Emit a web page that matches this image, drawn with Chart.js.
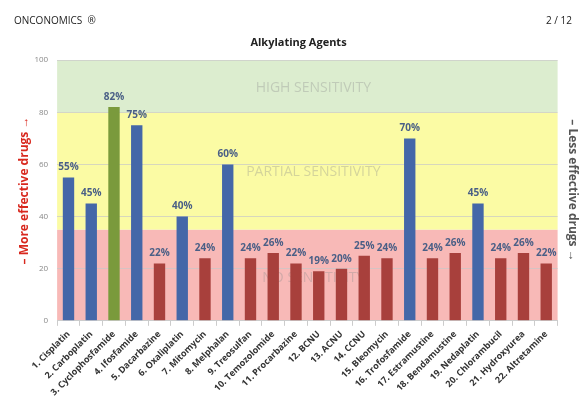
<!DOCTYPE html>
<html>
<head>
<meta charset="utf-8">
<script src="https://cdn.jsdelivr.net/npm/chart.js@4"></script>
<style>
  html, body { margin: 0; padding: 0; background: #fff; }
  #wrap { width: 580px; height: 412px; position: relative; }
</style>
</head>
<body>
<div id="wrap"><canvas id="alkylating"></canvas></div>
<script>
const drugs = ['1. Cisplatin', '2. Carboplatin', '3. Cyclophosfamide', '4. Ifosfamide', '5. Dacarbazine',
    '6. Oxaliplatin', '7. Mitomycin', '8. Melphalan', '9. Treosulfan', '10. Temozolomide', '11. Procarbazine',
    '12. BCNU', '13. ACNU', '14. CCNU', '15. Bleomycin', '16. Trofosfamide', '17. Estramustine',
    '18. Bendamustine', '19. Nedaplatin', '20. Chlorambucil', '21. Hydroxyurea', '22. Altretamine'];
const sensitivity = [55, 45, 82, 75, 22, 40, 24, 60, 24, 26, 22, 19, 20, 25, 24, 70, 24, 26, 45, 24, 26, 22];
// b = blue, g = green, r = red
const barGroup = ['b', 'b', 'g', 'b', 'r', 'b', 'r', 'b', 'r', 'r', 'r', 'r', 'r', 'r', 'r', 'b', 'r', 'r', 'b', 'r', 'r', 'r'];
const yTicks = [0, 20, 40, 60, 80, 100];
const bandLimits = [0, 35, 80, 100];
const bandNames = ['NO SENSITIVITY', 'PARTIAL SENSITIVITY', 'HIGH SENSITIVITY'];

const groupColors = { b: '#4467a8', g: '#7a9a3c', r: '#a8403c' };
const bandColors = ['#f8b9b7', '#fbfba4', '#dcedcf'];

const bandsPlugin = {
    id: 'bands',
    beforeDraw(chart) {
        const { ctx, chartArea, scales } = chart;
        const y = scales.y;
        ctx.save();
        for (let i = 0; i < bandNames.length; i++) {
            const top = y.getPixelForValue(bandLimits[i + 1]);
            const bottom = y.getPixelForValue(bandLimits[i]);
            ctx.fillStyle = bandColors[i];
            ctx.fillRect(chartArea.left, top, chartArea.right - chartArea.left, bottom - top);
        }
        ctx.restore();
    },
    beforeDatasetsDraw(chart) {
        const { ctx, chartArea, scales } = chart;
        const y = scales.y;
        ctx.save();
        ctx.font = '14px "Open Sans", sans-serif';
        ctx.fillStyle = 'rgba(140,140,140,0.35)';
        ctx.textAlign = 'center';
        ctx.textBaseline = 'middle';
        const cx = (chartArea.left + chartArea.right) / 2 + 6;
        ctx.fillText(bandNames[2], cx, y.getPixelForValue(89.5));
        ctx.fillText(bandNames[1], cx, y.getPixelForValue(57));
        ctx.fillText(bandNames[0], cx, y.getPixelForValue(16.5));
        ctx.restore();
    }
};

const labelsPlugin = {
    id: 'barLabels',
    afterDatasetsDraw(chart) {
        const { ctx } = chart;
        const meta = chart.getDatasetMeta(0);
        ctx.save();
        ctx.font = 'bold 10px "Open Sans", sans-serif';
        ctx.fillStyle = '#4a5f86';
        ctx.textAlign = 'center';
        ctx.textBaseline = 'bottom';
        meta.data.forEach((bar, i) => {
            ctx.fillText(sensitivity[i] + '%', bar.x, bar.y - 5);
        });
        ctx.restore();
    }
};

const headerPlugin = {
    id: 'header',
    afterDraw(chart) {
        const { ctx } = chart;
        ctx.save();
        ctx.font = '10px "Open Sans", sans-serif';
        ctx.fillStyle = '#222';
        ctx.textBaseline = 'middle';
        ctx.textAlign = 'left';
        ctx.fillText('ONCONOMICS  \u00ae', 14, 21);
        ctx.textAlign = 'right';
        ctx.fillText('2 / 12', 572, 21);
        ctx.restore();
    }
};

new Chart(document.getElementById('alkylating'), {
    type: 'bar',
    data: {
        labels: drugs,
        datasets: [{
            data: sensitivity,
            backgroundColor: barGroup.map(g => groupColors[g]),
            barPercentage: 0.5,
            categoryPercentage: 1.0
        }]
    },
    options: {
        responsive: true,
        maintainAspectRatio: false,
        animation: false,
        layout: { padding: { top: 36, left: 17, right: 0, bottom: 11 } },
        plugins: {
            legend: { display: false },
            tooltip: { enabled: false },
            title: {
                display: true,
                text: 'Alkylating Agents',
                color: '#222',
                font: { family: '"Open Sans", sans-serif', size: 11, weight: 'bold' },
                padding: { top: 0, bottom: 11 }
            }
        },
        scales: {
            x: {
                grid: { display: true, drawOnChartArea: false, offset: true, tickLength: 5, color: '#ccc' },
                border: { color: '#ccc' },
                ticks: {
                    autoSkip: false,
                    maxRotation: 45,
                    minRotation: 45,
                    color: '#333',
                    font: { family: '"Open Sans", sans-serif', size: 9, weight: 'bold' }
                }
            },
            y: {
                min: 0,
                max: 100,
                afterBuildTicks(axis) { axis.ticks = yTicks.map(v => ({ value: v })); },
                grid: { color: 'rgba(200,200,200,0.7)', drawTicks: false },
                border: { display: false },
                ticks: {
                    color: '#888',
                    padding: 9,
                    font: { family: '"Open Sans", sans-serif', size: 8 }
                },
                title: {
                    display: true,
                    text: '\u2013 More effective drugs \u2192',
                    color: '#d8281e',
                    font: { family: '"Open Sans", sans-serif', size: 12, weight: 'bold' },
                    padding: { top: 0, bottom: -6 }
                }
            },
            y2: {
                position: 'right',
                min: 0,
                max: 100,
                grid: { display: false },
                border: { display: false },
                ticks: { display: false },
                title: {
                    display: true,
                    text: '\u2013 Less effective drugs \u2192',
                    color: '#555',
                    font: { family: '"Open Sans", sans-serif', size: 12, weight: 'bold' },
                    padding: { top: 0, bottom: 0 }
                }
            }
        }
    },
    plugins: [bandsPlugin, labelsPlugin, headerPlugin]
});
</script>
</body>
</html>
